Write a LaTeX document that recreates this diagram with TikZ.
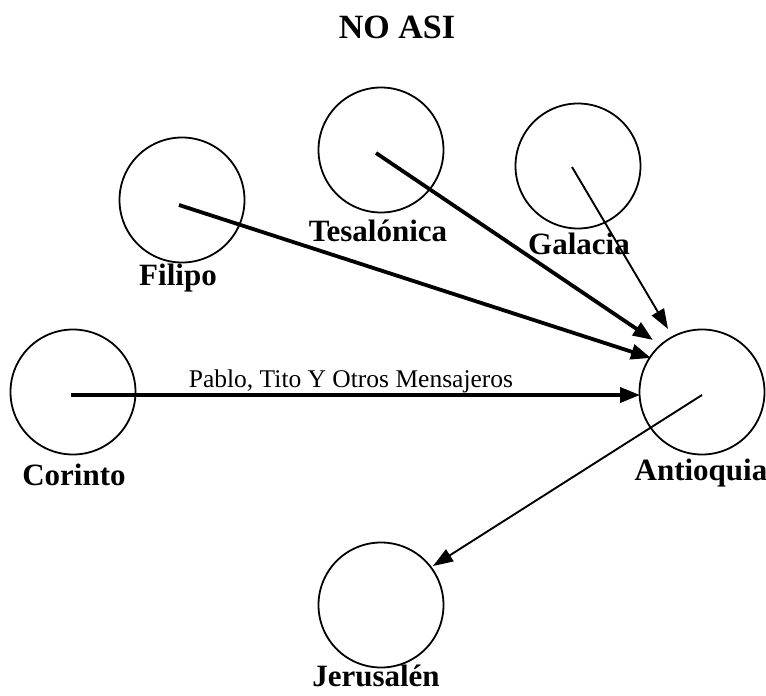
\documentclass[tikz,border=0pt]{standalone}
\usepackage{fontspec}
\setmainfont{Liberation Serif}
\usetikzlibrary{arrows.meta}
\begin{document}
\begin{tikzpicture}[x=1pt,y=-1pt,
  city/.style={draw=black,line width=1.8pt,circle,minimum size=125pt,inner sep=0pt},
  lbl/.style={font=\fontsize{31}{36}\selectfont\bfseries,anchor=base,inner sep=0pt},
  thickarrow/.style={line width=3.8pt,-{Triangle[length=20pt,width=15pt]}},
  thinarrow/.style={line width=1.9pt,-{Triangle[length=20pt,width=14pt]}}]
\useasboundingbox (0,0) rectangle (766,696);
\node[font=\fontsize{34}{40}\selectfont\bfseries,anchor=base,inner sep=0pt] (title) at (397,38) {NO ASI};
% circles
\node[city] (fil) at (182,200) {};
\node[city] (tes) at (381,150) {};
\node[city] (gal) at (578,166) {};
\node[city] (cor) at (73,392) {};
\node[city] (ant) at (702,392) {};
\node[city] (jer) at (381,605) {};
% labels
\node[lbl] (lfil) at (178,285) {Filipo};
\node[lbl] (ltes) at (378,241) {Tesalónica};
\node[lbl] (lgal) at (579,254) {Galacia};
\node[lbl] (lcor) at (74,485) {Corinto};
\node[lbl] (lant) at (701,480) {Antioquia};
\node[lbl] (ljer) at (376,686) {Jerusalén};
% connector ends
\coordinate (fs) at (179,205);
\coordinate (fe) at (651,358);
\coordinate (ts) at (376,153);
\coordinate (te) at (653,340);
\coordinate (gs) at (572,167);
\coordinate (ge) at (668,329);
\coordinate (cs) at (71,395);
\coordinate (ce) at (640,395);
\coordinate (as) at (702,395);
\coordinate (ae) at (433,566);
\draw[thickarrow] (fs) -- (fe);
\draw[thickarrow] (ts) -- (te);
\draw[thinarrow] (gs) -- (ge);
\draw[thickarrow] (cs) -- (ce);
\draw[thinarrow] (as) -- (ae);
\node[font=\fontsize{25.5}{30}\selectfont,anchor=base,inner sep=0pt] (elbl) at (351,387) {Pablo, Tito Y Otros Mensajeros};
\end{tikzpicture}
\end{document}
